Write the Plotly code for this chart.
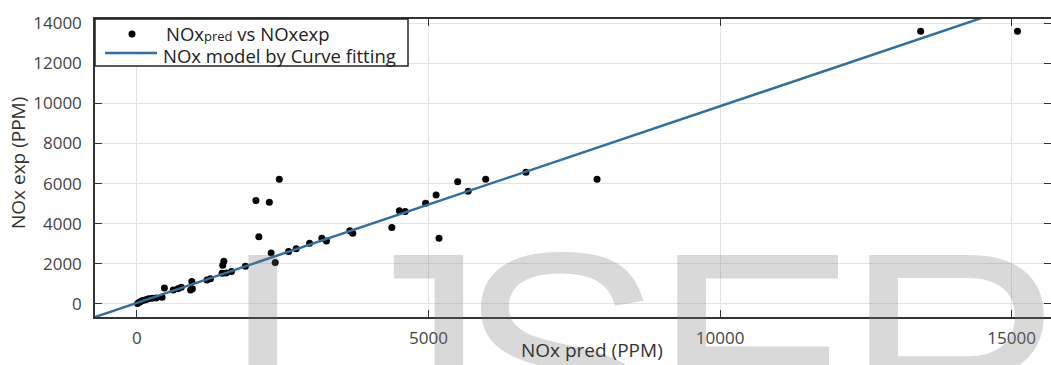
import plotly.graph_objects as go

# Data
nox_pred = [10, 40, 70, 100, 150, 200, 260, 330, 430, 470, 620, 700, 760, 920, 950,
            940, 1200, 1260, 1460, 1530, 1620, 1470, 1490, 1860, 2040, 2090, 2270,
            2300, 2370, 2440, 2600, 2730, 2960, 3170, 3250, 3650, 3700, 4370, 4500,
            4600, 4950, 5130, 5180, 5500, 5680, 5980, 6670, 7890, 13440, 15100]
nox_exp = [20, 90, 130, 170, 210, 260, 280, 300, 340, 800, 700, 760, 830, 700, 760,
           1120, 1200, 1250, 1530, 1540, 1620, 1930, 2130, 1880, 5150, 3350, 5070,
           2540, 2070, 6220, 2620, 2750, 3030, 3280, 3140, 3650, 3520, 3810, 4640,
           4610, 5020, 5430, 3280, 6090, 5620, 6220, 6560, 6220, 13590, 13590]

fit_x = [-1000, 16000]
fit_y = [-925, 15735]

x_ticks = [0, 5000, 10000, 15000]
y_ticks = [0, 2000, 4000, 6000, 8000, 10000, 12000, 14000]

series_names = ["NOx<span style='font-size:13px'>pred</span> vs NOxexp",
                "NOx model by Curve fitting"]
line_color = "#3070a0"

W, H = 1051, 365
L, R, T, B = 95, 0, 19, 48
pw = W - L - R
ph = H - T - B

def px(xp):
    return (xp - L) / pw

def py(yp):
    return (H - B - yp) / ph

fig = go.Figure()
fig.add_trace(go.Scatter(
    x=nox_pred, y=nox_exp, mode="markers",
    marker=dict(color="black", size=7),
    name=series_names[0], showlegend=False,
))
fig.add_trace(go.Scatter(
    x=fit_x, y=fit_y, mode="lines",
    line=dict(color=line_color, width=2.5),
    name=series_names[1], showlegend=False,
))

axis_common = dict(
    showline=True, linecolor="#333333", linewidth=1.5, mirror="ticks",
    ticks="inside", ticklen=7, tickcolor="#333333",
    showgrid=True, gridcolor="#e3e3e3", gridwidth=1, zeroline=False,
    tickfont=dict(family="Open Sans", size=17, color="#444444"),
    automargin=False,
)

fig.update_xaxes(range=[-720, 15675], tickvals=x_ticks,
                 ticktext=[str(v) for v in x_ticks],
                 ticklabelstandoff=5, **axis_common)
fig.update_yaxes(range=[-650, 14200], tickvals=y_ticks,
                 ticktext=[str(v) for v in y_ticks],
                 ticklabelstandoff=8, **axis_common)

annotations = []
# watermark letters
for ch, xl in [("I", 218), ("J", 330), ("S", 455), ("E", 650), ("R", 842)]:
    annotations.append(dict(text=ch, xref="paper", yref="paper",
                            x=px(xl), y=py(186), xanchor="left", yanchor="top",
                            showarrow=False,
                            font=dict(family="Liberation Sans", size=308,
                                      color="rgba(120,120,120,0.28)")))
annotations += [
    dict(text="NOx pred (PPM)", xref="paper", yref="paper",
         x=px(592), y=py(350), xanchor="center", yanchor="middle", showarrow=False,
         font=dict(family="Open Sans", size=19, color="#333333")),
    dict(text="NOx exp (PPM)", xref="paper", yref="paper", textangle=-90,
         x=px(18), y=py(163), xanchor="center", yanchor="middle", showarrow=False,
         font=dict(family="Open Sans", size=19, color="#333333")),
    # legend texts
    dict(text=series_names[0], xref="paper", yref="paper",
         x=px(164), y=py(34), xanchor="left", yanchor="middle", showarrow=False,
         font=dict(family="Open Sans", size=18.5, color="#222222")),
    dict(text=series_names[1], xref="paper", yref="paper",
         x=px(161), y=py(55), xanchor="left", yanchor="middle", showarrow=False,
         font=dict(family="Open Sans", size=18.5, color="#222222")),
]

shapes = [
    # legend box
    dict(type="rect", xref="paper", yref="paper", layer="above",
         x0=px(95), x1=px(408), y0=py(66), y1=py(19),
         fillcolor="white", line=dict(color="#222222", width=1.5)),
    # legend marker symbol
    dict(type="circle", xref="paper", yref="paper", layer="above",
         x0=px(128.5), x1=px(135.5), y0=py(37.5), y1=py(30.5),
         fillcolor="black", line=dict(color="black", width=0)),
    # legend line symbol
    dict(type="line", xref="paper", yref="paper", layer="above",
         x0=px(105), x1=px(157), y0=py(53), y1=py(53),
         line=dict(color=line_color, width=2.5)),
]

fig.update_layout(
    width=W, height=H,
    margin=dict(l=L, r=R, t=T, b=B, autoexpand=False),
    paper_bgcolor="white", plot_bgcolor="white",
    showlegend=False,
    annotations=annotations,
    shapes=shapes,
)

fig.write_html("out.html", config={"displayModeBar": False},
               post_script="document.body.style.margin='0px';")
